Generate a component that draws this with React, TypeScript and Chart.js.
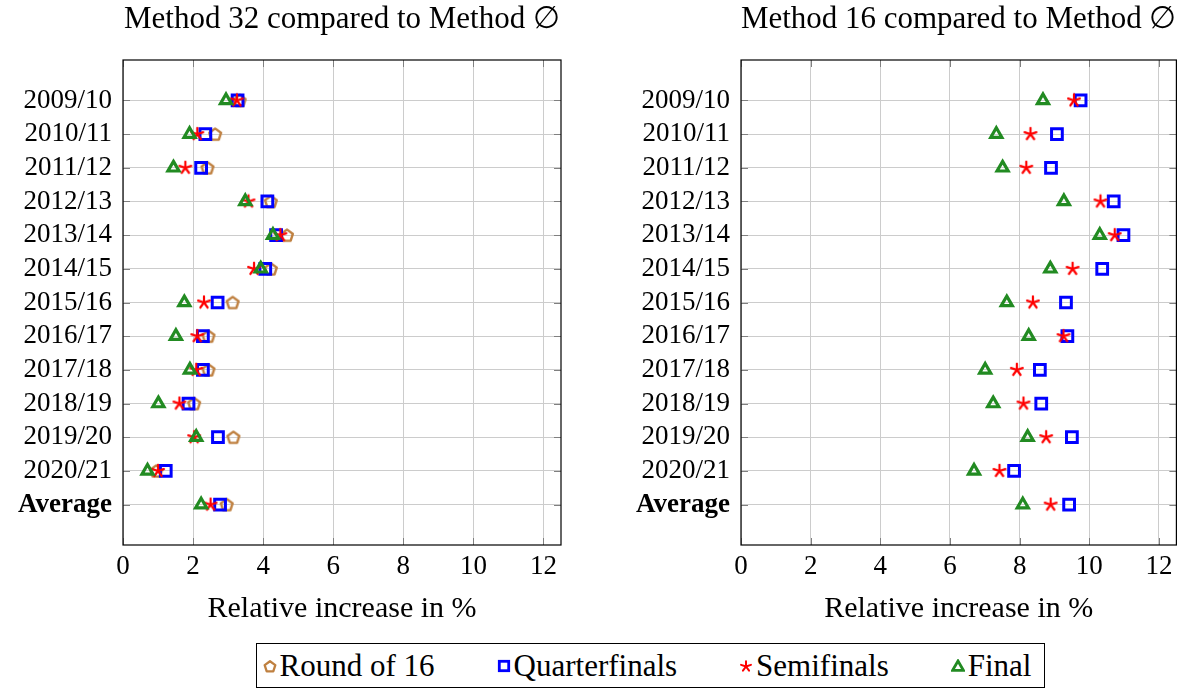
import React, { useEffect, useRef } from "react";
import { Chart, registerables } from "chart.js";

Chart.register(...registerables);

const categories = [
  "2009/10", "2010/11", "2011/12", "2012/13", "2013/14", "2014/15", "2015/16",
  "2016/17", "2017/18", "2018/19", "2019/20", "2020/21", "Average",
];

const xTickStep = 2;
const xMin = 0;
const xMax = 12.5;

// Method 32 compared to Method ∅
const m32Round16 = [3.33, 2.63, 2.41, 4.22, 4.68, 4.22, 3.13, 2.44, 2.44, 2.03, 3.15, 0.95, 2.96];
const m32Quarter = [3.27, 2.35, 2.23, 4.12, 4.37, 4.06, 2.7, 2.28, 2.28, 1.87, 2.71, 1.22, 2.77];
const m32Semi = [3.25, 2.12, 1.78, 3.58, 4.49, 3.74, 2.31, 2.12, 2.09, 1.61, 2.03, 1.0, 2.5];
const m32Final = [2.94, 1.9, 1.44, 3.49, 4.28, 3.93, 1.75, 1.51, 1.91, 1.01, 2.09, 0.7, 2.23];

// Method 16 compared to Method ∅
const m16Quarter = [9.75, 9.07, 8.9, 10.7, 10.98, 10.37, 9.33, 9.37, 8.58, 8.62, 9.5, 7.84, 9.42];
const m16Semi = [9.56, 8.31, 8.19, 10.32, 10.73, 9.52, 8.38, 9.26, 7.92, 8.11, 8.76, 7.42, 8.89];
const m16Final = [8.67, 7.33, 7.51, 9.27, 10.3, 8.88, 7.63, 8.26, 7.01, 7.24, 8.23, 6.69, 8.09];

const seriesNames = ["Round of 16", "Quarterfinals", "Semifinals", "Final"];

const FONT = '"Liberation Serif", "DejaVu Serif", serif';
const BROWN = "#bf8040";
const BLUE = "#0000ff";
const RED = "#ff0000";
const GREEN = "#228b22";

function makePentagon(): HTMLCanvasElement {
  const c = document.createElement("canvas");
  c.width = 18;
  c.height = 18;
  const ctx = c.getContext("2d")!;
  ctx.strokeStyle = BROWN;
  ctx.lineWidth = 2.4;
  ctx.lineJoin = "round";
  ctx.beginPath();
  for (let i = 0; i < 5; i++) {
    const a = -Math.PI / 2 + (i * 2 * Math.PI) / 5;
    const x = 9 + 6.2 * Math.cos(a);
    const y = 9.6 + 6.2 * Math.sin(a);
    if (i === 0) ctx.moveTo(x, y);
    else ctx.lineTo(x, y);
  }
  ctx.closePath();
  ctx.stroke();
  return c;
}

function makeStar(): HTMLCanvasElement {
  const c = document.createElement("canvas");
  c.width = 16;
  c.height = 16;
  const ctx = c.getContext("2d")!;
  ctx.strokeStyle = RED;
  ctx.lineWidth = 2.2;
  ctx.lineCap = "round";
  ctx.beginPath();
  for (let i = 0; i < 5; i++) {
    const a = -Math.PI / 2 + (i * 2 * Math.PI) / 5;
    ctx.moveTo(8, 8);
    ctx.lineTo(8 + 6.2 * Math.cos(a), 8 + 6.2 * Math.sin(a));
  }
  ctx.stroke();
  return c;
}

const toPoints = (vals: number[]) => vals.map((v, i) => ({ x: v, y: i }));

const framePlugin = {
  id: "frameTicks",
  beforeDatasetsDraw(chart: any) {
    const { ctx, chartArea: a, scales } = chart;
    ctx.save();
    ctx.strokeStyle = "#808080";
    ctx.lineWidth = 1;
    ctx.beginPath();
    scales.x.ticks.forEach((t: any) => {
      const x = Math.round(scales.x.getPixelForValue(t.value)) + 0.5;
      ctx.moveTo(x, a.bottom);
      ctx.lineTo(x, a.bottom - 7);
      ctx.moveTo(x, a.top);
      ctx.lineTo(x, a.top + 7);
    });
    scales.y.ticks.forEach((t: any) => {
      const y = Math.round(scales.y.getPixelForValue(t.value)) + 0.5;
      ctx.moveTo(a.left, y);
      ctx.lineTo(a.left + 7, y);
      ctx.moveTo(a.right, y);
      ctx.lineTo(a.right - 7, y);
    });
    ctx.stroke();
    ctx.restore();
  },
  afterDraw(chart: any) {
    const { ctx, chartArea: a } = chart;
    ctx.save();
    ctx.strokeStyle = "#000";
    ctx.lineWidth = 1.2;
    ctx.strokeRect(a.left, a.top, a.right - a.left, a.bottom - a.top);
    ctx.restore();
  },
};

function buildOptions(title: string, padRight: number, canvasH: number) {
  return {
    responsive: false,
    animation: false as const,
    events: [],
    layout: { padding: { left: 0, right: padRight, top: 0, bottom: 0 } },
    plugins: {
      legend: { display: false },
      tooltip: { enabled: false },
      title: {
        display: true,
        text: title,
        fullSize: false,
        color: "#000",
        font: { family: FONT, size: 31, weight: "normal" as const, lineHeight: 1.2 },
        padding: { top: 1, bottom: 21.8 },
      },
    },
    scales: {
      x: {
        type: "linear" as const,
        min: xMin,
        max: xMax,
        afterFit: (s: any) => {
          s.height = canvasH - 545;
        },
        ticks: {
          stepSize: xTickStep,
          includeBounds: false,
          color: "#000",
          padding: 6,
          font: { family: FONT, size: 27 },
        },
        grid: { color: "#cccccc", drawTicks: false, lineWidth: 1 },
        border: { display: false },
        title: {
          display: true,
          text: "Relative increase in %",
          color: "#000",
          font: { family: FONT, size: 30, lineHeight: 1.2 },
          padding: { top: 0, bottom: 3 },
        },
      },
      y: {
        type: "linear" as const,
        reverse: true,
        min: -1.2,
        max: 13.2,
        afterFit: (s: any) => {
          s.width = 123;
        },
        afterBuildTicks: (s: any) => {
          s.ticks = categories.map((_, i) => ({ value: i }));
        },
        ticks: {
          autoSkip: false,
          color: "#000",
          padding: 11,
          callback: (v: any) => categories[v as number] ?? "",
          font: (c: any) => ({
            family: FONT,
            size: 27,
            weight: c.tick && c.tick.value === categories.length - 1 ? "bold" : "normal",
          }),
        },
        grid: { color: "#cccccc", drawTicks: false, lineWidth: 1 },
        border: { display: false },
      },
    },
  };
}

function PlotCanvas(props: {
  title: string;
  left: number;
  width: number;
  height: number;
  padRight: number;
  withRound16: boolean;
  r16?: number[];
  qf: number[];
  sf: number[];
  fi: number[];
}) {
  const ref = useRef<HTMLCanvasElement>(null);
  useEffect(() => {
    const pent = makePentagon();
    const star = makeStar();
    const datasets: any[] = [];
    if (props.withRound16 && props.r16) {
      datasets.push({
        label: seriesNames[0],
        data: toPoints(props.r16),
        pointStyle: pent,
        order: 4,
        showLine: false,
      });
    }
    datasets.push({
      label: seriesNames[1],
      data: toPoints(props.qf),
      pointStyle: "rect",
      pointRadius: 7.6,
      borderColor: BLUE,
      backgroundColor: "rgba(0,0,0,0)",
      pointBorderWidth: 3,
      order: 3,
      showLine: false,
    });
    datasets.push({
      label: seriesNames[2],
      data: toPoints(props.sf),
      pointStyle: star,
      order: 2,
      showLine: false,
    });
    datasets.push({
      label: seriesNames[3],
      data: toPoints(props.fi),
      pointStyle: "triangle",
      pointRadius: 6.4,
      borderColor: GREEN,
      backgroundColor: "rgba(0,0,0,0)",
      pointBorderWidth: 3.2,
      order: 1,
      showLine: false,
    });
    const chart = new Chart(ref.current!, {
      type: "scatter",
      data: { datasets },
      options: buildOptions(props.title, props.padRight, props.height) as any,
      plugins: [framePlugin],
    });
    return () => chart.destroy();
  }, []);
  return (
    <canvas
      ref={ref}
      width={props.width}
      height={props.height}
      style={{ position: "absolute", left: props.left, top: 0, width: props.width, height: props.height }}
    />
  );
}

function LegendIcon({ kind }: { kind: number }) {
  if (kind === 0) {
    const pts = Array.from({ length: 5 }, (_, i) => {
      const a = -Math.PI / 2 + (i * 2 * Math.PI) / 5;
      return `${7 + 5.6 * Math.cos(a)},${7.8 + 5.6 * Math.sin(a)}`;
    }).join(" ");
    return (
      <svg width="14" height="14">
        <polygon points={pts} fill="none" stroke={BROWN} strokeWidth="2.3" strokeLinejoin="round" />
      </svg>
    );
  }
  if (kind === 1) {
    return (
      <svg width="14" height="14">
        <rect x="2.3" y="2.3" width="9.4" height="9.4" fill="none" stroke={BLUE} strokeWidth="2.8" />
      </svg>
    );
  }
  if (kind === 2) {
    const lines = Array.from({ length: 5 }, (_, i) => {
      const a = -Math.PI / 2 + (i * 2 * Math.PI) / 5;
      return <line key={i} x1="7" y1="7.5" x2={7 + 5.2 * Math.cos(a)} y2={7.5 + 5.2 * Math.sin(a)} stroke={RED} strokeWidth="2" strokeLinecap="round" />;
    });
    return <svg width="14" height="14">{lines}</svg>;
  }
  return (
    <svg width="14" height="14">
      <polygon points="7,2 12.4,11.4 1.6,11.4" fill="none" stroke={GREEN} strokeWidth="2.8" strokeLinejoin="miter" />
    </svg>
  );
}

export default function App() {
  return (
    <div style={{ position: "absolute", left: 0, top: 0, width: 1187, height: 689, background: "#fff", overflow: "hidden" }}>
      <PlotCanvas
        title="Method 32 compared to Method ∅"
        left={0}
        width={600}
        height={630}
        padRight={39}
        withRound16={true}
        r16={m32Round16}
        qf={m32Quarter}
        sf={m32Semi}
        fi={m32Final}
      />
      <PlotCanvas
        title="Method 16 compared to Method ∅"
        left={618}
        width={569}
        height={630}
        padRight={9}
        withRound16={false}
        qf={m16Quarter}
        sf={m16Semi}
        fi={m16Final}
      />
      <div style={{ position: "absolute", left: 123, top: 643, width: 1055, display: "flex", justifyContent: "center" }}>
        <div
          style={{
            border: "1px solid #000",
            height: 43,
            boxSizing: "content-box",
            display: "flex",
            alignItems: "center",
            padding: "0 13px 0 6px",
            gap: 62,
            fontFamily: FONT,
            fontSize: 31,
            color: "#000",
            whiteSpace: "nowrap",
          }}
        >
          {seriesNames.map((n, i) => (
            <div key={n} style={{ display: "flex", alignItems: "center" }}>
              <LegendIcon kind={i} />
              <span style={{ marginLeft: 3 }}>{n}</span>
            </div>
          ))}
        </div>
      </div>
    </div>
  );
}
